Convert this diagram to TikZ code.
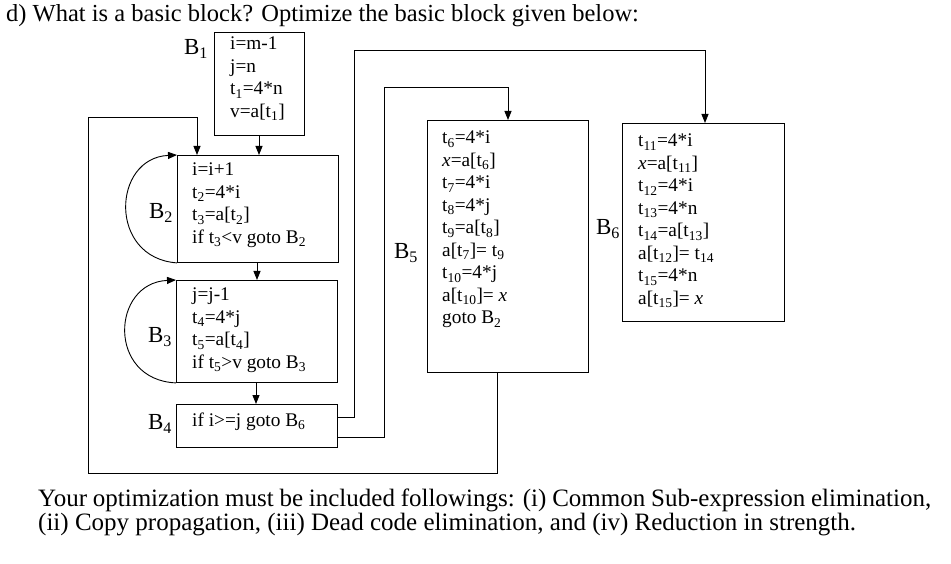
\documentclass[tikz,border=0pt]{standalone}
\usepackage{fontspec}
\setmainfont{Liberation Serif}
\usetikzlibrary{arrows.meta}
\newcommand{\s}[1]{\textsubscript{#1}}
\tikzset{
  box/.style={draw, line width=0.9pt, anchor=north west, inner sep=0},
  code/.style={anchor=north west, align=left, inner sep=0, font=\fontsize{19.3}{22.5}\selectfont},
  lab/.style={font=\fontsize{23}{24}\selectfont},
  conn/.style={line width=0.9pt, -{Triangle[length=9pt,width=7pt]}},
}
\begin{document}
\begin{tikzpicture}[x=1pt,y=-1pt]
\useasboundingbox (0,0) rectangle (951,564);
\fill[white] (0,0) rectangle (951,564);
\node[anchor=base west, inner sep=0, font=\fontsize{24.5}{26}\selectfont] (title) at (6,22) {d) What is a basic block? Optimize the basic block given below:};

\node[box, minimum width=90pt, minimum height=103pt] (b1) at (214,32) {};
\node[box, minimum width=161pt, minimum height=107pt] (b2) at (177,155) {};
\node[box, minimum width=161pt, minimum height=102pt] (b3) at (176,280) {};
\node[box, minimum width=161pt, minimum height=43pt] (b4) at (176,404) {};
\node[box, minimum width=161pt, minimum height=252pt] (b5) at (427,120) {};
\node[box, minimum width=162pt, minimum height=198pt] (b6) at (622,123) {};

\node[code] (t1) at (230,37) {i=m-1\\j=n\\t\s{1}=4*n\\v=a[t\s{1}]};
\node[code] (t2) at (192,163) {i=i+1\\t\s{2}=4*i\\t\s{3}=a[t\s{2}]\\if t\s{3}<v goto B\s{2}};
\node[code] (t3) at (192,288) {j=j-1\\t\s{4}=4*j\\t\s{5}=a[t\s{4}]\\if t\s{5}>v goto B\s{3}};
\node[code] (t4) at (192,413) {if i>=j goto B\s{6}};
\node[code] (t5) at (442,131) {t\s{6}=4*i\\\textit{x}=a[t\s{6}]\\t\s{7}=4*i\\t\s{8}=4*j\\t\s{9}=a[t\s{8}]\\a[t\s{7}]= t\s{9}\\t\s{10}=4*j\\a[t\s{10}]= \textit{x}\\goto B\s{2}};
\node[code] (t6) at (638,134) {t\s{11}=4*i\\\textit{x}=a[t\s{11}]\\t\s{12}=4*i\\t\s{13}=4*n\\t\s{14}=a[t\s{13}]\\a[t\s{12}]= t\s{14}\\t\s{15}=4*n\\a[t\s{15}]= \textit{x}};

\node[lab] (l1) at (196,49) {B\s{1}};
\node[lab] (l2) at (161,213) {B\s{2}};
\node[lab] (l3) at (160,337) {B\s{3}};
\node[lab] (l4) at (160,424) {B\s{4}};
\node[lab] (l5) at (406,253) {B\s{5}};
\node[lab] (l6) at (608,229) {B\s{6}};

\draw[conn] (b1.south -| 259,0) -- (b2.north -| 259,0);
\draw[conn] (b2.south -| 257,0) -- (b3.north -| 257,0);
\draw[conn] (b3.south -| 256,0) -- (b4.north -| 256,0);
\draw[conn] (b5.south -| 497,0) -- (497,473) -- (88,473) -- (88,117) -- (197,117) -- (b2.north -| 197,0);
\draw[conn] (b4.east |- 0,417) -- (354,417) -- (354,50) -- (705,50) -- (b6.north -| 705,0);
\draw[conn] (b4.east |- 0,437) -- (384,437) -- (384,87) -- (508,87) -- (b5.north -| 508,0);
\draw[conn] (b2.south west) .. controls (108,258) and (112,158) .. (b2.north west);
\draw[conn] (b3.south west) .. controls (107,380) and (111,283) .. (b3.north west);

\node[anchor=north west, inner sep=0, text width=893pt, align=justify, font=\fontsize{25}{24}\selectfont] (foot) at (38,489) {Your optimization must be included followings: (i) Common Sub-expression elimination,\linebreak (ii) Copy propagation, (iii) Dead code elimination, and (iv) Reduction in strength.};
\end{tikzpicture}
\end{document}
